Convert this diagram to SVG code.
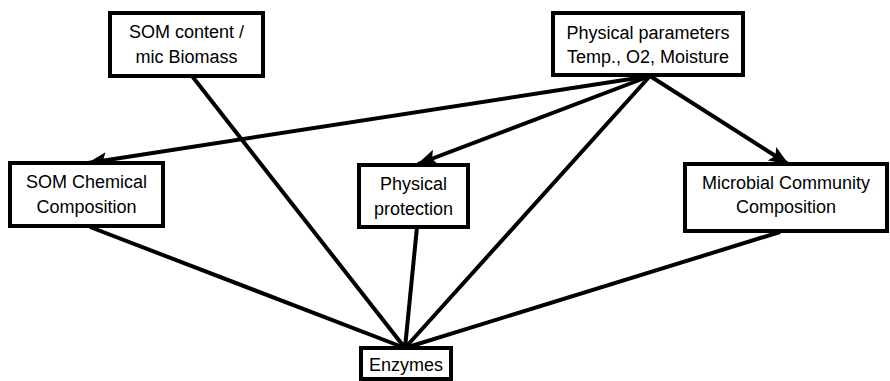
<svg xmlns="http://www.w3.org/2000/svg" width="890" height="381" viewBox="0 0 890 381">
<style>
.box{fill:#fff;stroke:#000;stroke-width:4}
.t{font-family:"Liberation Sans",Arial,sans-serif;font-size:18px;fill:#000;text-anchor:middle}
.c{stroke:#000;stroke-width:4;fill:none}
.a{marker-end:url(#ah)}
</style>
<defs>
<marker id="ah" markerUnits="userSpaceOnUse" markerWidth="20" markerHeight="16" refX="19" refY="8" orient="auto">
<path d="M0,0 L20,8 L0,16 L4,8 Z" fill="#000"/>
</marker>
</defs>
<g id="connectors">
<line class="c" x1="192" y1="76" x2="405" y2="348"/>
<line class="c" x1="650" y1="76" x2="405" y2="348"/>
<line class="c a" x1="650" y1="76" x2="88" y2="163"/>
<line class="c a" x1="650" y1="76" x2="418" y2="164"/>
<line class="c a" x1="650" y1="76" x2="788" y2="164"/>
<line class="c" x1="90" y1="227" x2="405" y2="348"/>
<line class="c" x1="417" y1="227" x2="405" y2="348"/>
<line class="c" x1="780" y1="232" x2="405" y2="348"/>
<circle cx="405" cy="347" r="5" fill="#000"/>
</g>
<g id="som-content">
<rect class="box" x="110" y="13" width="153" height="63"/>
<text class="t" x="186.5" y="38">SOM content /</text>
<text class="t" x="186.5" y="63">mic Biomass</text>
</g>
<g id="physical-parameters">
<rect class="box" x="553" y="13" width="190" height="62"/>
<text class="t" x="648" y="39">Physical parameters</text>
<text class="t" x="648" y="63">Temp., O2, Moisture</text>
</g>
<g id="som-chemical">
<rect class="box" x="10" y="163" width="153" height="63"/>
<text class="t" x="86.5" y="188">SOM Chemical</text>
<text class="t" x="86.5" y="213">Composition</text>
</g>
<g id="physical-protection">
<rect class="box" x="359" y="165" width="109" height="62"/>
<text class="t" x="413.5" y="190">Physical</text>
<text class="t" x="413.5" y="215">protection</text>
</g>
<g id="microbial">
<rect class="box" x="685" y="164" width="202" height="67"/>
<text class="t" x="786" y="189">Microbial Community</text>
<text class="t" x="786" y="213">Composition</text>
</g>
<g id="enzymes">
<rect class="box" x="361" y="348" width="90" height="31"/>
<text class="t" x="406" y="371">Enzymes</text>
</g>
</svg>
